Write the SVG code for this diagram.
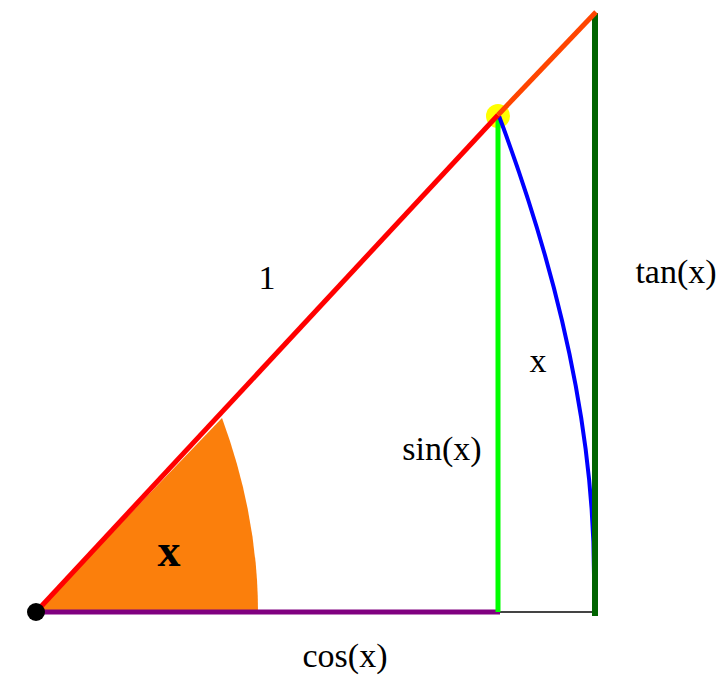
<svg xmlns="http://www.w3.org/2000/svg" width="722" height="675" viewBox="0 0 722 675">
<style>
.lbl{font-family:"Liberation Serif","Times New Roman",serif;font-size:34px;fill:#000}
.ln{fill:none;stroke-linecap:butt}
</style>
<rect width="722" height="675" fill="#fff"/>
<g id="angle-sector">
<path d="M36,612 L222,418 Q258,516 258,612 Z" fill="#fb7f0c"/>
</g>
<g id="connectors">
<line class="ln" x1="498" y1="612" x2="595" y2="612" stroke="#444" stroke-width="2"/>
<line class="ln" x1="36" y1="612" x2="500" y2="612" stroke="#800080" stroke-width="5"/>
<circle cx="498" cy="116" r="12" fill="#ffff00"/>
<line class="ln" x1="498" y1="116" x2="498" y2="612" stroke="#00ff00" stroke-width="5"/>
<path class="ln" d="M499,116 Q594,370 594,575" stroke="#0000ff" stroke-width="4"/>
<line class="ln" x1="595" y1="13" x2="595" y2="616" stroke="#006400" stroke-width="6"/>
<line class="ln" x1="36" y1="612" x2="498" y2="115" stroke="#ff0000" stroke-width="5"/>
<line class="ln" x1="498" y1="115" x2="596" y2="12" stroke="#ff4500" stroke-width="5"/>
</g>
<g id="origin">
<circle cx="36" cy="612" r="9" fill="#000"/>
</g>
<g id="labels">
<text class="lbl" x="267" y="289" text-anchor="middle">1</text>
<text class="lbl" x="676" y="283" text-anchor="middle">tan(x)</text>
<text class="lbl" x="538" y="372" text-anchor="middle">x</text>
<text class="lbl" x="442" y="460" text-anchor="middle">sin(x)</text>
<text class="lbl" x="345" y="667" text-anchor="middle">cos(x)</text>
<text class="lbl" x="169" y="566" text-anchor="middle" style="font-size:46px;font-weight:bold">x</text>
</g>
</svg>
